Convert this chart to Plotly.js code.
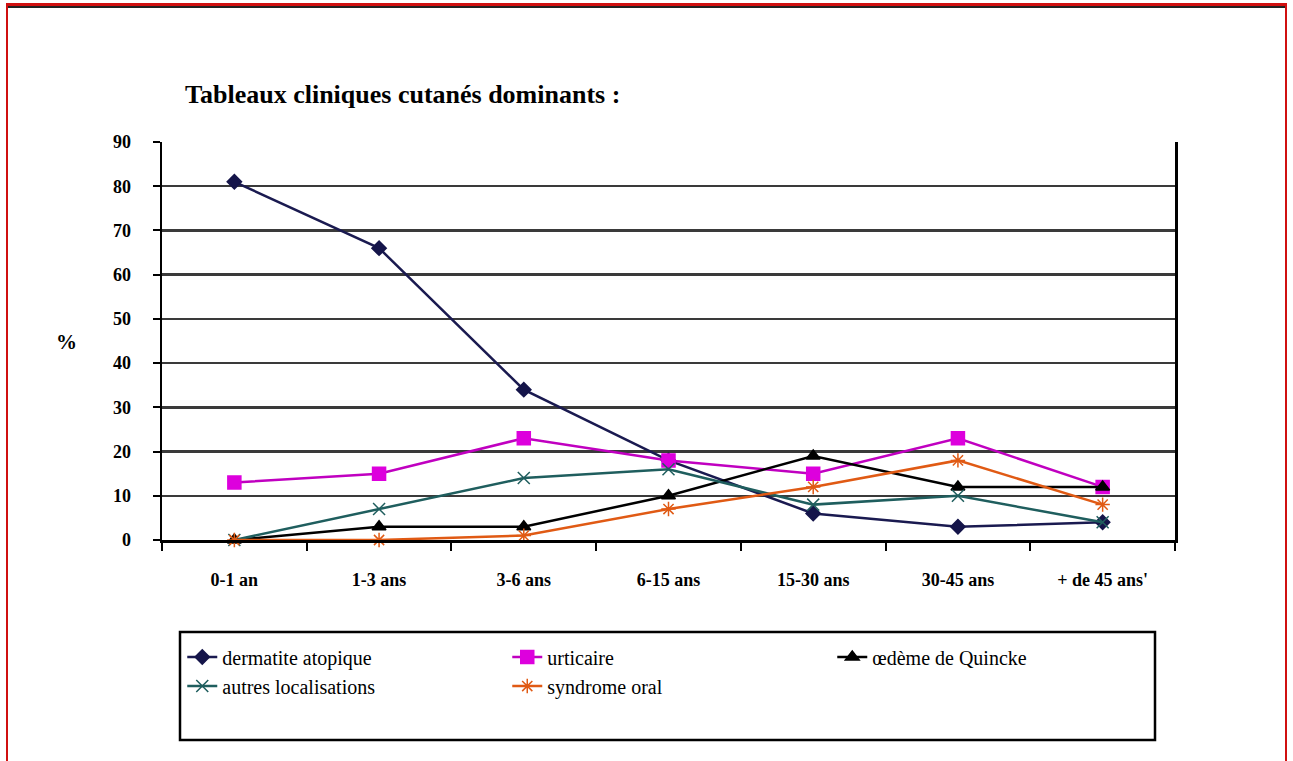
<!DOCTYPE html>
<html>
<head>
<meta charset="utf-8">
<script src="https://cdn.plot.ly/plotly-3.0.1.min.js"></script>
<style>
  html, body { margin: 0; padding: 0; background: #fff; }
  #chart { width: 1293px; height: 761px; }
  #frame { position: absolute; left: 6px; top: 3px; width: 1277px; height: 770px;
           border-left: 2px solid #d01010; border-right: 2px solid #d01010; border-top: 3px solid #d01010;
           box-shadow: inset 0 2px 0 #222; pointer-events: none; }
</style>
</head>
<body>
<div id="chart"></div>
<div id="frame"></div>
<script>
const categories = ["0-1 an", "1-3 ans", "3-6 ans", "6-15 ans", "15-30 ans", "30-45 ans", "+ de 45 ans'"];
const dermatite = [81, 66, 34, 18, 6, 3, 4];
const urticaire = [13, 15, 23, 18, 15, 23, 12];
const oedeme = [0, 3, 3, 10, 19, 12, 12];
const autres = [0, 7, 14, 16, 8, 10, 4];
const syndromeOral = [0, 0, 1, 7, 12, 18, 8];
const yTicks = [0, 10, 20, 30, 40, 50, 60, 70, 80, 90];

const serif = "Times New Roman";

function series(name, values, color, symbol, size, lineColor) {
  return {
    type: "scatter", mode: "lines+markers", name: name,
    x: categories, y: values, cliponaxis: false,
    line: { color: lineColor || color, width: 2.5 },
    marker: { symbol: symbol, size: size, color: color, line: { color: color, width: 1.5 } }
  };
}

const traces = [
  series("dermatite atopique", dermatite, "#15154a", "diamond", 11, "#1a1a50"),
  series("urticaire", urticaire, "#dd00dd", "square", 13, "#c000c0"),
  series("œdème de Quincke", oedeme, "#000000", "triangle-up", 12),
  series("autres localisations", autres, "#1f5e5e", "x-thin-open", 12),
  series("syndrome oral", syndromeOral, "#e05a14", "asterisk-open", 12)
];

const layout = {
  width: 1293, height: 761,
  margin: { l: 162, r: 118, t: 142, b: 221 },
  paper_bgcolor: "#ffffff", plot_bgcolor: "#ffffff",
  font: { family: serif, color: "#000", size: 16 },
  title: {
    text: "<b>Tableaux cliniques cutanés dominants :</b>",
    font: { family: serif, size: 26, color: "#000" },
    xref: "container", x: 185 / 1293, xanchor: "left",
    yref: "container", y: 1 - 94 / 761, yanchor: "middle"
  },
  xaxis: {
    type: "category", tickson: "boundaries", ticks: "outside", ticklen: 8, tickwidth: 2, tickcolor: "#000",
    showline: true, linecolor: "#000", linewidth: 2.5,
    showgrid: false, ticklabelstandoff: 22,
    tickfont: { family: serif, size: 18, color: "#000", weight: "bold" },
    range: [-0.5, 6.5]
  },
  yaxis: {
    range: [0, 90], tickvals: yTicks, ticks: "outside", ticklen: 7, tickwidth: 2, tickcolor: "#000",
    showline: true, mirror: true, linecolor: "#000", linewidth: 2.5,
    showgrid: true, gridcolor: "#3a3a3a", gridwidth: 2.5, zeroline: false,
    ticklabelstandoff: 18,
    tickfont: { family: serif, size: 18, color: "#000", weight: "bold" }
  },
  showlegend: true,
  legend: {
    orientation: "h", x: 0.02, xanchor: "left", y: -0.245, yanchor: "top",
    entrywidth: 280, entrywidthmode: "pixels",
    bgcolor: "rgba(0,0,0,0)", borderwidth: 0,
    font: { family: serif, size: 20, color: "#000" },
    traceorder: "normal"
  },
  shapes: [{
    type: "rect", xref: "paper", yref: "paper",
    x0: (180 - 162) / 1013, x1: (1155 - 162) / 1013,
    y0: (540 - 740) / 398, y1: (540 - 632) / 398,
    line: { color: "#000", width: 2.5 }, fillcolor: "rgba(0,0,0,0)"
  }],
  annotations: [{
    text: "<b>%</b>", xref: "paper", yref: "paper",
    x: (66 - 162) / 1013, y: (540 - 342) / 398, xanchor: "center", yanchor: "middle",
    showarrow: false, font: { family: serif, size: 21, color: "#000" }
  }]
};

Plotly.newPlot("chart", traces, layout, { displayModeBar: false, staticPlot: true });
</script>
</body>
</html>
